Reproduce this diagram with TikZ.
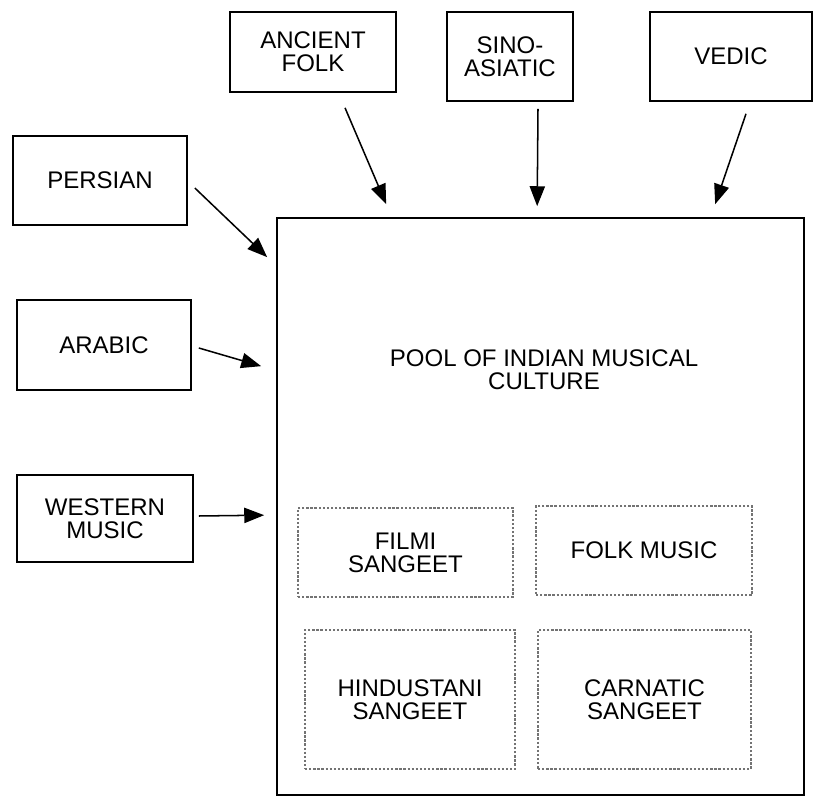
\documentclass[tikz,border=0pt]{standalone}
\usepackage{fontspec}
\setmainfont{Liberation Sans}
\usetikzlibrary{arrows.meta,calc}
\begin{document}
\begin{tikzpicture}[x=0.03cm, y=-0.03cm,
    srcbox/.style = {draw,
                     line width = 1.4pt,
                     align = center,
                     inner sep = 0pt,
                     font = \fontsize{20.5}{19.5}\selectfont},
    genrebox/.style = {draw = black!55,
                       line width = 0.9pt,
                       dash pattern = on 2pt off 1.5pt,
                       align = center,
                       inner sep = 0pt,
                       font = \fontsize{20.5}{19.5}\selectfont},
    feed/.style = {line width = 1.3pt,
                   -{Triangle[length=17pt, width=13pt]}}]
  \useasboundingbox (0,0) rectangle (814,797);
  % sources
  \node[srcbox, minimum width=4.98cm, minimum height=2.4cm] (ancient) at (313,52) {ANCIENT\\FOLK};
  \node[srcbox, minimum width=3.78cm, minimum height=2.67cm] (sino) at (510,56.5) {SINO-\\ASIATIC};
  \node[srcbox, minimum width=4.86cm, minimum height=2.67cm] (vedic) at (731,56.5) {VEDIC};
  \node[srcbox, minimum width=5.22cm, minimum height=2.67cm] (persian) at (100,180.5) {PERSIAN};
  \node[srcbox, minimum width=5.22cm, minimum height=2.7cm] (arabic) at (104,345) {ARABIC};
  \node[srcbox, minimum width=5.28cm, minimum height=2.61cm] (western) at (105,518.5) {WESTERN\\MUSIC};
  % pool
  \node[srcbox, minimum width=15.81cm, minimum height=17.31cm] (main) at (540.5,506.5) {};
  \node[align=center, font=\fontsize{20.5}{19.5}\selectfont] (pool) at (544,370) {POOL OF INDIAN MUSICAL\\CULTURE};
  \node[genrebox, minimum width=6.45cm, minimum height=2.67cm] (filmi) at (405.5,552.5) {FILMI\\SANGEET};
  \node[genrebox, minimum width=6.48cm, minimum height=2.67cm] (folk) at (644,550.5) {FOLK MUSIC};
  \node[genrebox, minimum width=6.3cm, minimum height=4.17cm] (hindustani) at (410,699.5) {HINDUSTANI\\SANGEET};
  \node[genrebox, minimum width=6.39cm, minimum height=4.17cm] (carnatic) at (644.5,699.5) {CARNATIC\\SANGEET};
  % influences
  \draw[feed] ($(persian.east)+(7,7.5)$) -- ($(main.north west)+(-9,40)$);
  \draw[feed] ($(arabic.east)+(7,3)$) -- ($(main.north west)+(-15,149)$);
  \draw[feed] ($(western.east)+(5,-2.5)$) -- ($(main.north west)+(-12,298)$);
  \draw[feed] ($(ancient.south)+(32,15)$) -- ($(main.north west)+(110,-13)$);
  \draw[feed] ($(sino.south)+(28,7)$) -- ($(main.north west)+(261,-11)$);
  \draw[feed] ($(vedic.south)+(15,12)$) -- ($(main.north west)+(439,-13)$);
\end{tikzpicture}
\end{document}
